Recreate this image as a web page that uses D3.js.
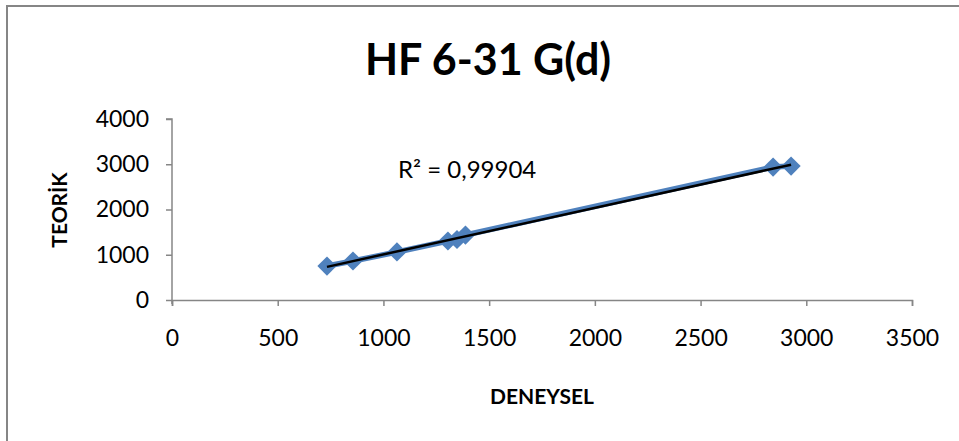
<!DOCTYPE html>
<html>
<head>
<meta charset="utf-8">
<script src="https://cdn.jsdelivr.net/npm/d3@7"></script>
<style>
  html, body { margin: 0; padding: 0; background: #fff; }
  svg text { font-family: Lato, "Open Sans", sans-serif; fill: #000; }
</style>
</head>
<body>
<svg id="chart" width="959" height="441"></svg>
<script>
// ── Data ──
const deneysel = [733, 856, 1064, 1305, 1348, 1388, 2843, 2928];
const teorik   = [751, 862, 1061, 1304, 1337, 1436, 2939, 2961];
const xTicks = [0, 500, 1000, 1500, 2000, 2500, 3000, 3500];
const yTicks = [0, 1000, 2000, 3000, 4000];
const title = 'HF 6-31 G(d)';
const xLabel = 'DENEYSEL';
const yLabel = 'TEORİK';
const r2Text = 'R² = 0,99904';

const svg = d3.select('#chart');

// outer chart frame (runs off right/bottom edges)
svg.append('rect')
    .attr('x', 7).attr('y', 6).attr('width', 980).attr('height', 460)
    .attr('fill', 'none').attr('stroke', '#868686').attr('stroke-width', 2);

const x = d3.scaleLinear().domain([0, 3500]).range([172, 912]);
const y = d3.scaleLinear().domain([0, 4000]).range([300, 119]);

// ── Axes ──
const axisColor = '#868686';
const gx = svg.append('g').attr('transform', `translate(0,${y(0)})`)
    .call(d3.axisBottom(x).tickValues(xTicks).tickSize(6).tickPadding(24).tickFormat(d3.format('d')));
const gy = svg.append('g').attr('transform', `translate(${x(0)},0)`)
    .call(d3.axisLeft(y).tickValues(yTicks).tickSize(6).tickPadding(17).tickFormat(d3.format('d')));

[gx, gy].forEach(g => {
    g.select('.domain').attr('stroke', axisColor).attr('stroke-width', 1.5);
    g.selectAll('.tick line').attr('stroke', axisColor).attr('stroke-width', 1.5);
    g.selectAll('.tick text').attr('font-size', 23).attr('font-family', 'Lato').attr('fill', '#000');
});
gx.selectAll('.tick text').attr('dy', '0.71em');
// little stub of y axis below x axis, like Excel
gy.select('.domain').attr('d', `M-6,${y(4000)}H0V${y(0) + 4}`);

// ── Series line + diamond markers ──
const pts = deneysel.map((d, i) => [d, teorik[i]]);
svg.append('path').datum(pts)
    .attr('fill', 'none').attr('stroke', '#4F81BD').attr('stroke-width', 5.5)
    .attr('stroke-linejoin', 'round')
    .attr('d', d3.line().x(d => x(d[0])).y(d => y(d[1])));

svg.selectAll('.pt').data(pts).join('path').attr('class', 'pt')
    .attr('transform', d => `translate(${x(d[0])},${y(d[1])}) rotate(45)`)
    .attr('d', d3.symbol(d3.symbolSquare, 185))
    .attr('fill', '#4F81BD');

// ── Linear trendline (least squares) ──
const mx = d3.mean(deneysel), my = d3.mean(teorik);
const slope = d3.sum(pts, d => (d[0] - mx) * (d[1] - my)) / d3.sum(pts, d => (d[0] - mx) ** 2);
const icpt = my - slope * mx;
const ext = d3.extent(deneysel);
svg.append('path').datum(ext.map(v => [v, icpt + slope * v]))
    .attr('fill', 'none').attr('stroke', '#000').attr('stroke-width', 2.5)
    .attr('d', d3.line().x(d => x(d[0])).y(d => y(d[1])));

// ── Texts ──
svg.append('text').attr('x', 488).attr('y', 75).attr('text-anchor', 'middle')
    .attr('font-size', 43).attr('font-weight', 700).text(title);
svg.append('text').attr('x', 398).attr('y', 178)
    .attr('font-size', 24).text(r2Text);
svg.append('text').attr('x', 542).attr('y', 404).attr('text-anchor', 'middle')
    .attr('font-size', 21).attr('font-weight', 700).text(xLabel);
svg.append('text').attr('transform', 'translate(67,210) rotate(-90)').attr('text-anchor', 'middle')
    .attr('font-size', 21).attr('font-weight', 700).text(yLabel);
</script>
</body>
</html>
